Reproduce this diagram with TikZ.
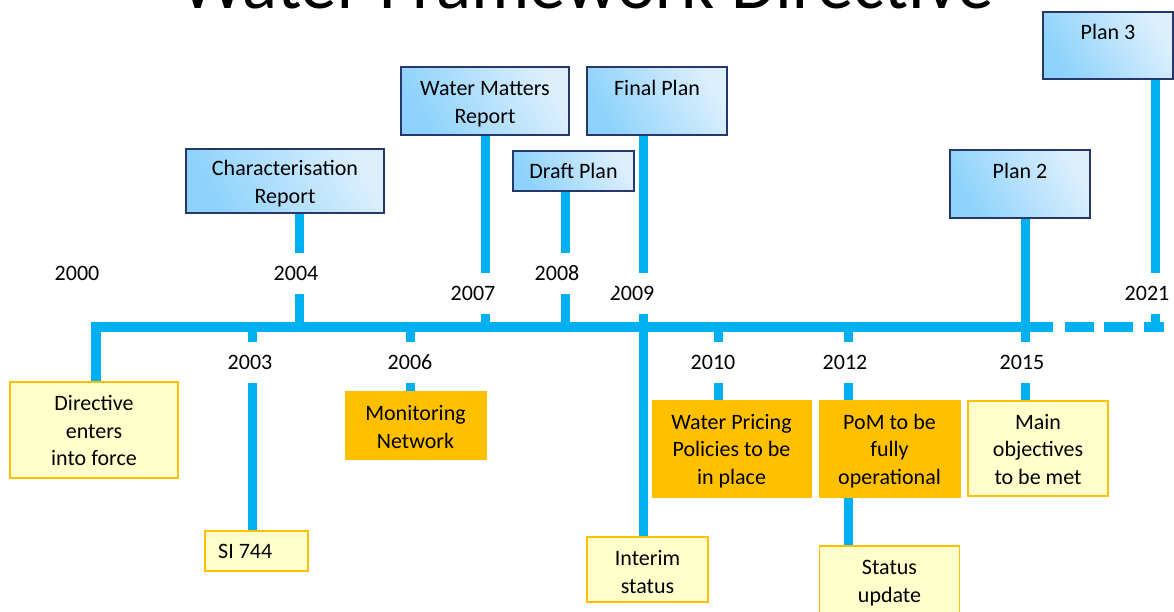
\documentclass[tikz,border=0pt]{standalone}
\usepackage{fontspec}
\setmainfont{Carlito}
\definecolor{lineblue}{HTML}{00B0F0}
\definecolor{yfill}{HTML}{FFFFCC}
\definecolor{yborder}{HTML}{FFC000}
\definecolor{ofill}{HTML}{FFC000}
\definecolor{bdark}{HTML}{8CD2FB}
\definecolor{blight}{HTML}{DDEFFD}
\definecolor{bborder}{HTML}{26386A}
\tikzset{
  txt/.style={font=\fontsize{22}{27.5}\selectfont, align=center, inner sep=0pt},
  bluebox/.style={draw=bborder, line width=1.2pt, left color=bdark, right color=blight, shading angle=120, inner sep=0pt},
  yellowbox/.style={draw=yborder, fill=yfill, line width=1.3pt, inner sep=0pt},
  orangebox/.style={draw=ofill, fill=ofill, line width=1pt, inner sep=0pt},
  yearlabel/.style={txt, fill=white, minimum height=41pt, minimum width=56pt, inner sep=1pt},
  mainline/.style={draw=lineblue, line width=10pt, line join=miter},
  stem/.style={draw=lineblue, line width=9pt},
}
\begin{document}
\begin{tikzpicture}[x=1pt,y=-1pt]
\useasboundingbox (0,0) rectangle (1174,612);
\clip (0,0) rectangle (1174,612);
% title
\node[anchor=base, font=\fontsize{73}{80}\selectfont, inner sep=0pt] (title) at (587,9) {Water Framework Directive};

% upper blue boxes
\node[bluebox, minimum width=198pt, minimum height=64pt] (char) at (285,181) {};
\node[txt] (chart) at (285,183.5) {Characterisation\\Report};
\node[bluebox, minimum width=168pt, minimum height=68pt] (wm) at (485,101) {};
\node[txt] (wmt) at (485,104) {Water Matters\\Report};
\node[bluebox, minimum width=121pt, minimum height=40pt] (draft) at (573.5,171) {};
\node[txt] (draftt) at (573.5,171) {Draft Plan};
\node[bluebox, minimum width=140pt, minimum height=68pt] (final) at (657,101) {};
\node[txt] (finalt) at (657,88) {Final Plan};
\node[bluebox, minimum width=140pt, minimum height=68pt] (plan2) at (1020,184) {};
\node[txt] (plan2t) at (1020,171) {Plan 2};
\node[bluebox, minimum width=130pt, minimum height=67pt] (plan3) at (1108,45.5) {};
\node[txt] (plan3t) at (1108,32) {Plan 3};

% lower boxes
\node[yellowbox, minimum width=168pt, minimum height=96pt] (dir) at (94,430) {};
\node[txt] (dirt) at (94,430.5) {Directive\\enters\\into force};
\node[yellowbox, minimum width=103pt, minimum height=40pt] (si) at (256.5,551) {};
\node[txt, anchor=west] (sit) at (218,551) {SI 744};
\node[orangebox, minimum width=141pt, minimum height=68pt] (mon) at (415.5,425) {};
\node[txt] (mont) at (415.5,427) {Monitoring\\Network};
\node[orangebox, minimum width=159pt, minimum height=97pt] (price) at (731.5,448.5) {};
\node[txt] (pricet) at (731.5,451) {Water Pricing\\Policies to be\\in place};
\node[orangebox, minimum width=141pt, minimum height=97pt] (pom) at (889.5,448.5) {};
\node[txt] (pomt) at (889.5,451) {PoM to be\\fully\\operational};
\node[yellowbox, minimum width=140pt, minimum height=95pt] (main) at (1038,448.5) {};
\node[txt] (maint) at (1038,449.5) {Main\\objectives\\to be met};
\node[yellowbox, minimum width=121pt, minimum height=65pt] (interim) at (647.5,569.5) {};
\node[txt] (interimt) at (647.5,572) {Interim\\status};
\node[yellowbox, minimum width=140pt, minimum height=80pt] (status) at (889.5,586) {};
\node[txt] (statust) at (889.5,583) {Status\\update};

% coordinates on the time line
\coordinate (start) at (96,327);
\coordinate (t2003) at (252,327);
\coordinate (t2004) at (299,327);
\coordinate (t2006) at (410,327);
\coordinate (t2007) at (485,327);
\coordinate (t2008) at (565,327);
\coordinate (t2009) at (643.5,327);
\coordinate (t2010) at (718,327);
\coordinate (t2012) at (848,327);
\coordinate (t2015) at (1025,327);
\coordinate (t2021) at (1155,327);
\coordinate (solidend) at (1053,327);
\coordinate (lineend) at (1164,327);

% main line
\draw[mainline] (start |- dir.north) -- (start) -- (solidend);
\draw[mainline, dash pattern=on 0pt off 12pt on 29pt off 10pt on 29pt off 11pt on 20pt] (solidend) -- (lineend);

% stems
\draw[stem] (t2004 |- char.south) -- (t2004);
\draw[stem] (t2007 |- wm.south) -- (t2007);
\draw[stem] (t2008 |- draft.south) -- (t2008);
\draw[stem] (t2009 |- final.south) -- (t2009 |- interim.north);
\draw[stem] (t2015 |- plan2.south) -- (t2015 |- main.north);
\draw[stem] (t2021 |- plan3.south) -- (t2021);
\draw[stem] (t2003) -- (t2003 |- si.north);
\draw[stem] (t2006) -- (t2006 |- mon.north);
\draw[stem] (t2010) -- (t2010 |- price.north);
\draw[stem] (t2012) -- (t2012 |- pom.north);
\draw[stem] (t2012 |- pom.south) -- (t2012 |- status.north);

% year labels
\node[txt] (y2000) at (77,273) {2000};
\node[yearlabel] (y2004) at (296,273) {2004};
\node[yearlabel] (y2007) at (473,293) {2007};
\node[yearlabel] (y2009) at (632,293) {2009};
\node[yearlabel, minimum width=116pt] (y2008) at (557,273) {2008};
\node[yearlabel] (y2021) at (1147,293) {2021};
\node[yearlabel] (y2003) at (250,362) {2003};
\node[yearlabel] (y2006) at (410,362) {2006};
\node[yearlabel] (y2010) at (713,362) {2010};
\node[yearlabel] (y2012) at (845,362) {2012};
\node[yearlabel] (y2015) at (1022,362) {2015};
\end{tikzpicture}
\end{document}
